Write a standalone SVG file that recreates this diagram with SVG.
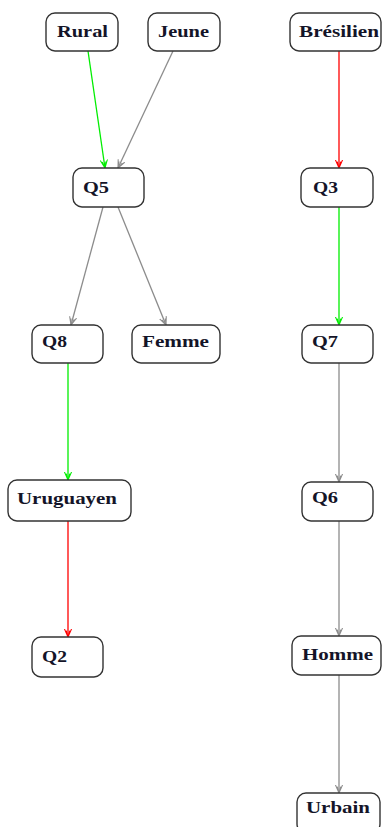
<svg xmlns="http://www.w3.org/2000/svg" width="382" height="827" viewBox="0 0 382 827">
<style>
.n rect{fill:#fff;stroke:#333;stroke-width:1.4}
.n text{font-family:"Liberation Serif","Times New Roman",serif;font-weight:bold;font-size:16px;fill:#141428}
.e{fill:none;stroke-width:1.3}
.g{stroke:#00ee00}.r{stroke:#ff0000}.k{stroke:#8c8c8c}
</style>
<defs>
<marker id="ag" viewBox="0 0 10 10" refX="9" refY="5" markerWidth="9" markerHeight="9" markerUnits="userSpaceOnUse" orient="auto"><path d="M0,1 L9,5 L0,9 M2,3 L9,5 L2,7" fill="none" stroke="#00ee00" stroke-width="1.2"/></marker>
<marker id="ar" viewBox="0 0 10 10" refX="9" refY="5" markerWidth="9" markerHeight="9" markerUnits="userSpaceOnUse" orient="auto"><path d="M0,1 L9,5 L0,9 M2,3 L9,5 L2,7" fill="none" stroke="#ff0000" stroke-width="1.2"/></marker>
<marker id="ak" viewBox="0 0 10 10" refX="9" refY="5" markerWidth="9" markerHeight="9" markerUnits="userSpaceOnUse" orient="auto"><path d="M0,1 L9,5 L0,9 M2,3 L9,5 L2,7" fill="none" stroke="#8c8c8c" stroke-width="1.2"/></marker>
</defs>
<g id="edges">
<line class="e g" x1="88" y1="51" x2="105" y2="168" marker-end="url(#ag)"/>
<line class="e k" x1="173" y1="51" x2="118" y2="168" marker-end="url(#ak)"/>
<line class="e k" x1="103" y1="207" x2="71" y2="325" marker-end="url(#ak)"/>
<line class="e k" x1="118" y1="207" x2="166" y2="325" marker-end="url(#ak)"/>
<line class="e r" x1="339" y1="51" x2="339" y2="168" marker-end="url(#ar)"/>
<line class="e g" x1="339" y1="207" x2="339" y2="325" marker-end="url(#ag)"/>
<line class="e g" x1="68" y1="363" x2="68" y2="480" marker-end="url(#ag)"/>
<line class="e r" x1="68" y1="521" x2="68" y2="637" marker-end="url(#ar)"/>
<line class="e k" x1="339" y1="363" x2="339" y2="482" marker-end="url(#ak)"/>
<line class="e k" x1="339" y1="521" x2="339" y2="636" marker-end="url(#ak)"/>
<line class="e k" x1="339" y1="675" x2="339" y2="793" marker-end="url(#ak)"/>
</g>
<g id="Rural" class="n"><rect x="46" y="13" width="72" height="38" rx="9"/><text x="57" y="37" textLength="51" lengthAdjust="spacingAndGlyphs">Rural</text></g>
<g id="Jeune" class="n"><rect x="148" y="13" width="72" height="38" rx="9"/><text x="158" y="37" textLength="51" lengthAdjust="spacingAndGlyphs">Jeune</text></g>
<g id="Bresilien" class="n"><rect x="290" y="13" width="91" height="38" rx="9"/><text x="299" y="37" textLength="80" lengthAdjust="spacingAndGlyphs">Brésilien</text></g>
<g id="Q5" class="n"><rect x="73" y="168" width="71" height="39" rx="9"/><text x="83" y="193" textLength="26" lengthAdjust="spacingAndGlyphs">Q5</text></g>
<g id="Q3" class="n"><rect x="301" y="168" width="72" height="39" rx="9"/><text x="313" y="193" textLength="25" lengthAdjust="spacingAndGlyphs">Q3</text></g>
<g id="Q8" class="n"><rect x="32" y="325" width="71" height="38" rx="9"/><text x="42" y="347" textLength="25" lengthAdjust="spacingAndGlyphs">Q8</text></g>
<g id="Femme" class="n"><rect x="132" y="325" width="88" height="38" rx="9"/><text x="142" y="347" textLength="67" lengthAdjust="spacingAndGlyphs">Femme</text></g>
<g id="Q7" class="n"><rect x="302" y="325" width="71" height="38" rx="9"/><text x="312" y="347" textLength="26" lengthAdjust="spacingAndGlyphs">Q7</text></g>
<g id="Uruguayen" class="n"><rect x="8" y="480" width="123" height="41" rx="9"/><text x="17" y="504" textLength="100" lengthAdjust="spacingAndGlyphs">Uruguayen</text></g>
<g id="Q6" class="n"><rect x="302" y="482" width="71" height="39" rx="9"/><text x="312" y="503" textLength="26" lengthAdjust="spacingAndGlyphs">Q6</text></g>
<g id="Q2" class="n"><rect x="32" y="637" width="71" height="40" rx="9"/><text x="42" y="662" textLength="25" lengthAdjust="spacingAndGlyphs">Q2</text></g>
<g id="Homme" class="n"><rect x="292" y="636" width="89" height="39" rx="9"/><text x="302" y="660" textLength="71" lengthAdjust="spacingAndGlyphs">Homme</text></g>
<g id="Urbain" class="n"><rect x="297" y="793" width="83" height="40" rx="9"/><text x="306" y="813" textLength="64" lengthAdjust="spacingAndGlyphs">Urbain</text></g>
</svg>
